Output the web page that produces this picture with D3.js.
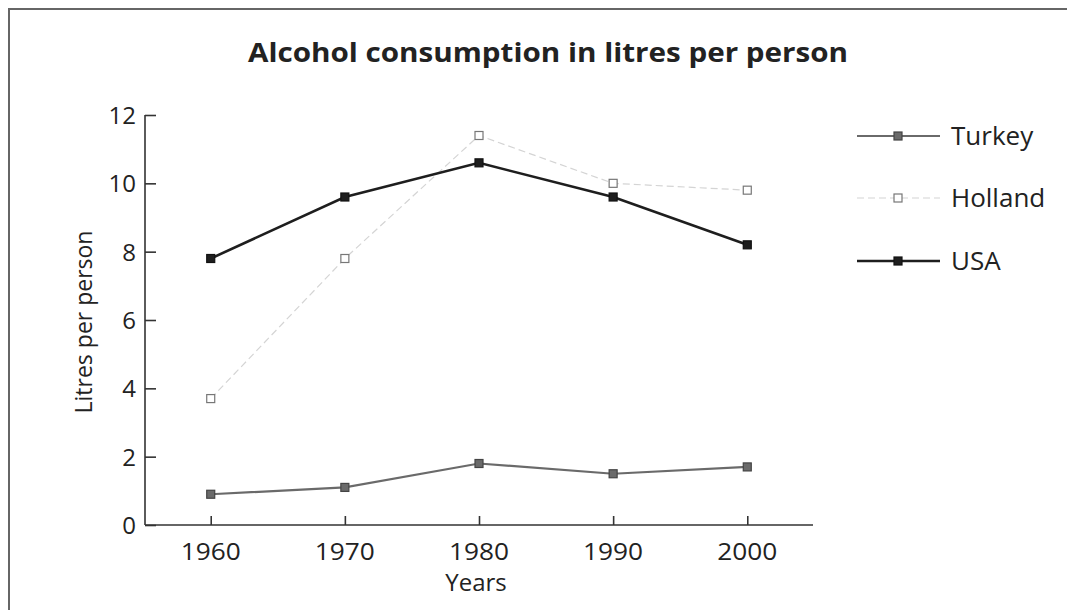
<!DOCTYPE html>
<html>
<head>
<meta charset="utf-8">
<script src="https://cdn.jsdelivr.net/npm/d3@7"></script>
<style>
  html, body { margin: 0; padding: 0; background: #fff; }
  svg { display: block; }
  text { font-family: "Open Sans", "Noto Sans", sans-serif; fill: #222; }
</style>
</head>
<body>
<svg id="chart" width="1067" height="610"></svg>
<script>
const years = [1960, 1970, 1980, 1990, 2000];
const turkey = [0.9, 1.1, 1.8, 1.5, 1.7];
const holland = [3.7, 7.8, 11.4, 10.0, 9.8];
const usa = [7.8, 9.6, 10.6, 9.6, 8.2];
const yTicks = [0, 2, 4, 6, 8, 10, 12];
const seriesNames = ["Turkey", "Holland", "USA"];
const title = "Alcohol consumption in litres per person";
const yLabel = "Litres per person";
const xLabel = "Years";

const seriesData = [turkey, holland, usa];
const styles = {
  Turkey: { stroke: "#6a6a6a", width: 2.2, dash: null, fill: "#6a6a6a", mstroke: "#444" },
  Holland: { stroke: "#d4d4d4", width: 1.2, dash: "7,4", fill: "#fff", mstroke: "#777" },
  USA: { stroke: "#1e1e1e", width: 2.6, dash: null, fill: "#1e1e1e", mstroke: "#111" }
};

const svg = d3.select("#chart");

// frame
svg.append("path")
  .attr("d", "M9,610 L9,9 L1067,9")
  .attr("fill", "none").attr("stroke", "#666").attr("stroke-width", 2);

// title
svg.append("text")
  .attr("x", 548).attr("y", 62)
  .attr("text-anchor", "middle")
  .attr("font-size", 27).attr("font-weight", 700)
  .attr("textLength", 600).attr("lengthAdjust", "spacingAndGlyphs")
  .text(title);

const x = d3.scaleLinear().domain([1955.1, 2004.9]).range([145, 813]);
const y = d3.scaleLinear().domain([0, 12]).range([525, 115]);

// y axis
const yAxis = svg.append("g").attr("transform", "translate(145,0)")
  .call(d3.axisRight(y).tickValues(yTicks).tickSize(11).tickFormat(""));
yAxis.select(".domain").attr("d", `M0,${y(12)}V${y(0)}`);
yAxis.selectAll("path, line").attr("stroke", "#333").attr("stroke-width", 1.6);

svg.append("g").selectAll("text").data(yTicks).join("text")
  .attr("x", 136).attr("y", d => y(d) + 9)
  .attr("text-anchor", "end").attr("font-size", 24)
  .text(d => d);

// x axis
const xAxis = svg.append("g").attr("transform", `translate(0,${y(0)})`)
  .call(d3.axisTop(x).tickValues(years).tickSize(9).tickFormat(""));
xAxis.select(".domain").attr("d", `M145,0H813`);
xAxis.selectAll("path, line").attr("stroke", "#333").attr("stroke-width", 1.6);

svg.append("g").selectAll("text").data(years).join("text")
  .attr("x", d => x(d)).attr("y", 560)
  .attr("text-anchor", "middle").attr("font-size", 23)
  .attr("textLength", 60).attr("lengthAdjust", "spacingAndGlyphs")
  .text(d => d);

svg.append("text")
  .attr("x", 476).attr("y", 591)
  .attr("text-anchor", "middle").attr("font-size", 24)
  .text(xLabel);

svg.append("text")
  .attr("transform", `translate(92,322) rotate(-90)`)
  .attr("text-anchor", "middle").attr("font-size", 23)
  .text(yLabel);

// lines
const line = d3.line().x((d, i) => x(years[i])).y(d => y(d));
const order = [1, 0, 2]; // draw Holland first, then Turkey, then USA
order.forEach(k => {
  const name = seriesNames[k];
  const s = styles[name];
  const g = svg.append("g");
  g.append("path")
    .attr("d", line(seriesData[k]))
    .attr("fill", "none")
    .attr("stroke", s.stroke).attr("stroke-width", s.width)
    .attr("stroke-dasharray", s.dash);
  g.selectAll("rect").data(seriesData[k]).join("rect")
    .attr("x", (d, i) => x(years[i]) - 4).attr("y", d => y(d) - 4)
    .attr("width", 8).attr("height", 8)
    .attr("fill", s.fill).attr("stroke", s.mstroke).attr("stroke-width", 1.2);
});

// legend
const legendY = [136, 198, 261];
seriesNames.forEach((name, i) => {
  const s = styles[name];
  const g = svg.append("g").attr("transform", `translate(0,${legendY[i]})`);
  g.append("line").attr("x1", 857).attr("x2", 940).attr("y1", 0).attr("y2", 0)
    .attr("stroke", s.stroke).attr("stroke-width", s.width)
    .attr("stroke-dasharray", s.dash);
  g.append("rect").attr("x", 894).attr("y", -4).attr("width", 8).attr("height", 8)
    .attr("fill", s.fill).attr("stroke", s.mstroke).attr("stroke-width", 1.2);
  g.append("text").attr("x", 951).attr("y", 9).attr("font-size", 26).text(name);
});
</script>
</body>
</html>
